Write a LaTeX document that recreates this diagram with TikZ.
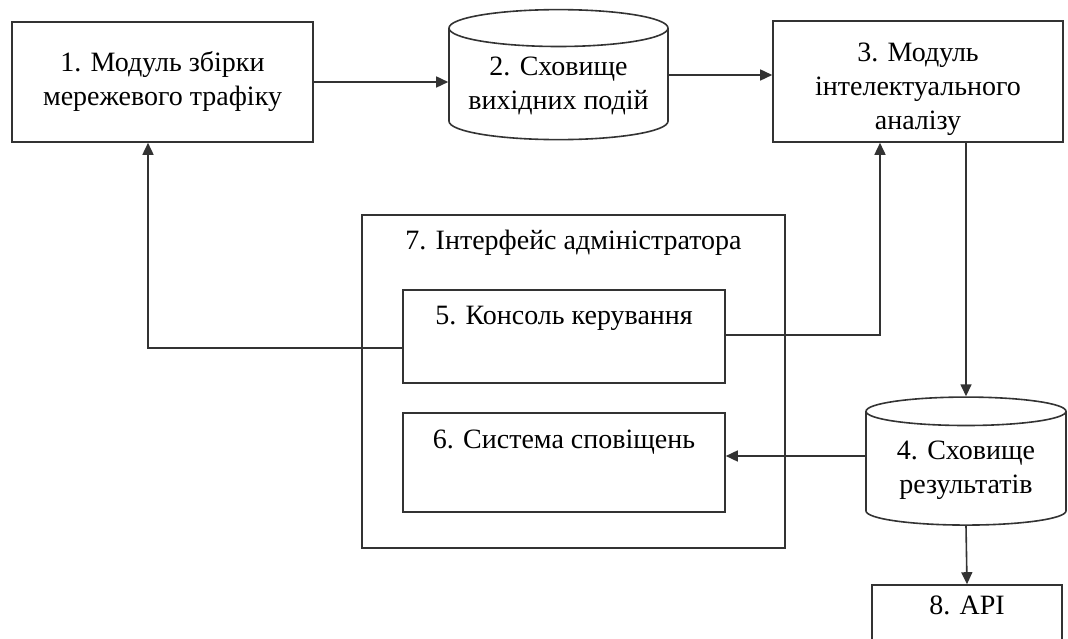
\documentclass[tikz,border=0pt]{standalone}
\usepackage{fontspec}
\setmainfont{Liberation Serif}
\usetikzlibrary{positioning,arrows.meta,shapes.geometric}

\begin{document}
\begin{tikzpicture}[
  x=1pt,y=-1pt,
  font=\fontsize{28}{34}\selectfont,
  box/.style={rectangle,draw=black!80,line width=1.6pt,align=center,inner sep=3pt},
  store/.style={cylinder,shape border rotate=90,draw=black!80,line width=1.6pt,
                align=center,inner sep=2pt,aspect=0.2},
  arr/.style={-{Triangle[length=12pt,width=11pt]},line width=1.6pt,black!80},
]
\path[use as bounding box,clip] (0,0) rectangle (1068,639);

% top row: collector, raw events store, analysis module
\node[box,minimum width=301pt,minimum height=120pt] (collect) at (162.5,82) {1. Модуль збірки\\мережевого трафіку};
\node[store,minimum width=219pt,minimum height=130pt] (events) at (558.5,86) {2. Сховище\\вихідних подій};
\node[box,minimum width=290pt,minimum height=121pt,
      label={[align=center,yshift=-8pt]center:3. Модуль\\інтелектуального\\аналізу}] (analysis) at (918,81.5) {};

% admin interface with its two parts
\node[box,minimum width=423pt,minimum height=333pt,
      label={[anchor=north,yshift=-12pt]north:7. Інтерфейс адміністратора}] (admin) at (573.5,381.5) {};
\node[box,minimum width=322pt,minimum height=93pt,
      label={[anchor=north,yshift=-13pt]north:5. Консоль керування}] (console) at (564,336.5) {};
\node[box,minimum width=322pt,minimum height=99pt,
      label={[anchor=north,yshift=-14pt]north:6. Система сповіщень}] (notify) at (564,462.5) {};

% results store and API
\node[store,minimum width=200pt,minimum height=128pt] (results) at (966,470) {4. Сховище\\результатів};
\node[box,minimum width=190pt,minimum height=100pt,
      label={[anchor=north,yshift=-8pt]north:8. API}] (api) at (967,635) {};

\draw[arr] (collect.east) -- (collect.east -| events.west);
\draw[arr] ([yshift=11pt]events.east) -- ([yshift=11pt]events.east -| analysis.west);
\draw[arr] ([yshift=-11.5pt]console.west) -| ([xshift=-14.5pt]collect.south);
\draw[arr] ([yshift=1.5pt]console.east) -| ([xshift=-38pt]analysis.south);
\draw[arr] (analysis.south -| results.north) -- (results.north);
\draw[arr] ([yshift=14pt]results.west) -- ([yshift=14pt]results.west -| notify.east);
\draw[arr] (results.south) -- (api.north);
\end{tikzpicture}
\end{document}
